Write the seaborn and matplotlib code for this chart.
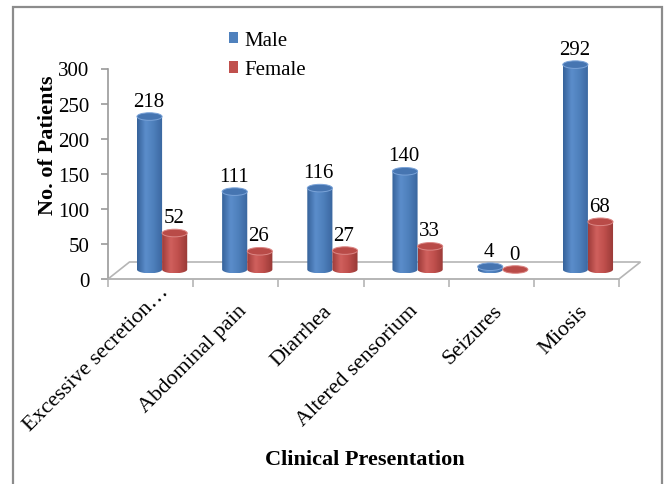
import numpy as np
import pandas as pd
import matplotlib
matplotlib.use("Agg")
import matplotlib.pyplot as plt
import seaborn as sns
from matplotlib import transforms
from matplotlib.colors import LinearSegmentedColormap
from matplotlib.patches import Ellipse, PathPatch, Polygon, Rectangle, Patch
from matplotlib.path import Path

# ---- data -------------------------------------------------------------
presentations = ["Excessive secretion\u2026", "Abdominal pain", "Diarrhea",
                 "Altered sensorium", "Seizures", "Miosis"]
male = [218, 111, 116, 140, 4, 292]
female = [52, 26, 27, 33, 0, 68]
series = ["Male", "Female"]
y_ticks = [0, 50, 100, 150, 200, 250, 300]

# ---- styling ----------------------------------------------------------
series_colors = {"Male": "#4F81BD", "Female": "#C0504D"}
body_shades = {
    "Male": ["#36629A", "#5B8DCB", "#4F81BD", "#3A669F"],
    "Female": ["#9E3C3A", "#D0605D", "#C0504D", "#983936"],
}
cap_face = {"Male": "#4675B1", "Female": "#B94B48"}
cap_edge = {"Male": "#7AA3D8", "Female": "#DC8785"}
axis_gray = "#9A9A9A"
floor_gray = "#B5B5B5"

sns.set_theme(style="white")
plt.rcParams["font.family"] = ["Liberation Serif", "DejaVu Serif"]
plt.rcParams["text.color"] = "black"
plt.rcParams["axes.labelcolor"] = "black"
plt.rcParams["xtick.color"] = "black"
plt.rcParams["ytick.color"] = "black"

df = pd.DataFrame({
    "Presentation": presentations * 2,
    "Patients": male + female,
    "Sex": [series[0]] * len(male) + [series[1]] * len(female),
})

W, H, DPI = 665, 485, 100
fig = plt.figure(figsize=(W / DPI, H / DPI), dpi=DPI)
fig.patch.set_facecolor("white")

# plot area: y = 0 on the front edge of the floor
y_top = 320
px_per_unit = 210.5 / 300
ax = fig.add_axes([108 / W, (H - 280) / H, 511 / W, px_per_unit * y_top / H])
ax.set_facecolor("none")

sns.barplot(data=df, x="Presentation", y="Patients", hue="Sex",
            palette=series_colors, hue_order=series, order=presentations,
            width=0.59, gap=0, saturation=1, errorbar=None, legend=False, ax=ax)

# depth offset: cylinders stand in the middle of the floor
depth = transforms.ScaledTranslation(11.5 / DPI, 9.5 / DPI, fig.dpi_scale_trans)
bar_trans = ax.transData + depth
ry = 3.8 / px_per_unit  # half height of the elliptical ends, in data units

gradient = np.linspace(0, 1, 64)[None, :]
for name, container in zip(series, ax.containers):
    cmap = LinearSegmentedColormap.from_list(
        name, list(zip([0, 0.33, 0.62, 1.0], body_shades[name])))
    for bar in container:
        x0, w, h = bar.get_x(), bar.get_width(), bar.get_height()
        cx = x0 + w / 2
        bar.set_visible(False)
        t = np.linspace(np.pi, 2 * np.pi, 40)
        arc = np.column_stack([cx + (w / 2) * np.cos(t), ry * np.sin(t)])
        verts = np.vstack([[x0, h], [x0, 0], arc, [x0 + w, h], [x0, h]])
        codes = [Path.MOVETO] + [Path.LINETO] * (len(verts) - 2) + [Path.CLOSEPOLY]
        body = PathPatch(Path(verts, codes), transform=bar_trans,
                         facecolor="none", edgecolor="none", zorder=2)
        ax.add_patch(body)
        im = ax.imshow(gradient, cmap=cmap, aspect="auto",
                       extent=(x0, x0 + w, -ry, h + ry),
                       interpolation="bicubic", zorder=2)
        im.set_transform(bar_trans)
        im.set_clip_path(body)
        ax.add_patch(Ellipse((cx, h), w, 2 * ry, transform=bar_trans,
                             facecolor=cap_face[name], edgecolor=cap_edge[name],
                             lw=0.7, zorder=3))
        ax.annotate(f"{h:.0f}", (cx, h), xycoords=bar_trans,
                    xytext=(-1, 11), textcoords="offset pixels",
                    ha="center", va="baseline", fontsize=15, zorder=4)

# floor of the 3-D plot
dx = 21.5 / (511 / 6)
dy = 17 / px_per_unit
floor = Polygon([(-0.5, 0), (-0.5 + dx, dy), (5.5 + dx, dy), (5.5, 0)],
                closed=True, facecolor="white", edgecolor=floor_gray,
                lw=1.2, clip_on=False, zorder=1)
ax.add_patch(floor)

ax.set_xlim(-0.5, 5.5)
ax.set_ylim(0, y_top)

# axes, ticks and labels
for side in ["top", "right"]:
    ax.spines[side].set_visible(False)
ax.spines["left"].set_bounds(0, 300)
ax.spines["left"].set_color(axis_gray)
ax.spines["bottom"].set_color(floor_gray)
ax.spines["left"].set_linewidth(1.2)
ax.spines["bottom"].set_linewidth(1.2)

ax.set_yticks(y_ticks)
ax.set_yticklabels([str(v) for v in y_ticks], fontsize=15)
ax.tick_params(axis="y", left=True, length=5, width=1.2, color=axis_gray,
               pad=8.5, direction="out")

# category labels, rotated, hanging below the front edge
ax.set_xticks(range(len(presentations)))
ax.set_xticklabels([])
ax.set_xticks(np.arange(-0.5, len(presentations), 1), minor=True)
ax.tick_params(axis="x", which="major", bottom=False, length=0)
ax.tick_params(axis="x", which="minor", bottom=True, length=6, width=1.2,
               color=floor_gray, direction="out")
label_shift = [(9, -3)] + [(2, -22)] * (len(presentations) - 1)
for i, (name, (sx, sy)) in enumerate(zip(presentations, label_shift)):
    shift = transforms.ScaledTranslation(sx / DPI, sy / DPI, fig.dpi_scale_trans)
    ax.text(i, 0, name, transform=ax.get_xaxis_transform() + shift,
            rotation=45, rotation_mode="anchor", ha="right", va="top",
            fontsize=16, clip_on=False)

ax.set_ylabel("No. of Patients", fontsize=16, fontweight="bold")
ax.yaxis.set_label_coords(-0.098, 0.601)
ax.set_xlabel("Clinical Presentation", fontsize=16, fontweight="bold")
ax.xaxis.set_label_coords(0.502, -0.758)

handles = [Patch(facecolor=series_colors[s], edgecolor="none") for s in series]
fig.legend(handles, series, loc="upper left", bbox_to_anchor=(229 / W, 1 - 32 / H),
           frameon=False, fontsize=15, handlelength=0.45, handleheight=0.45,
           handletextpad=0.3, labelspacing=0.5, borderpad=0, borderaxespad=0)

# chart border
fig.add_artist(Rectangle((12.7 / W, -0.05), (662 - 12.7) / W, (H - 8.3) / H + 0.05,
                         transform=fig.transFigure, fill=False,
                         edgecolor="#8C8C8C", lw=1.6))

fig.savefig("out.png", dpi=DPI)
